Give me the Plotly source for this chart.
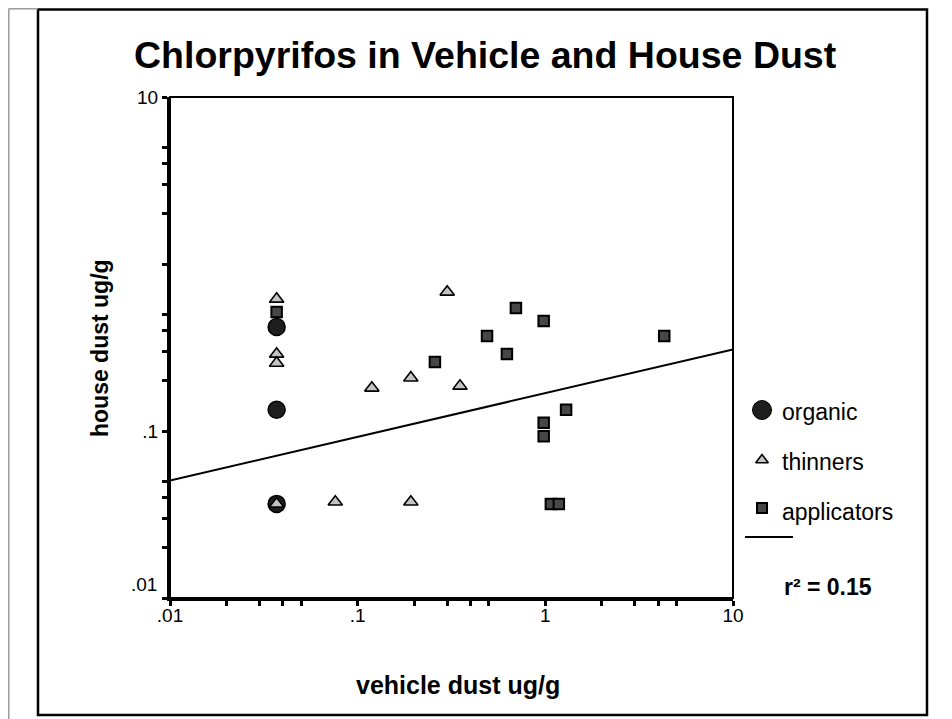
import plotly.graph_objects as go

# ---- data ----
organic_x = [0.037, 0.037, 0.037]
organic_y = [0.42, 0.134, 0.0366]

thinners_x = [0.037, 0.037, 0.037, 0.037, 0.30, 0.119, 0.192, 0.351, 0.076, 0.192]
thinners_y = [0.617, 0.289, 0.255, 0.0366, 0.68, 0.181, 0.208, 0.186, 0.0376, 0.0376]

applicators_x = [0.037, 0.258, 0.489, 0.697, 0.98, 0.624, 4.3, 1.29, 0.98, 0.98, 1.07, 1.18]
applicators_y = [0.516, 0.259, 0.370, 0.545, 0.456, 0.289, 0.370, 0.134, 0.112, 0.093, 0.0366, 0.0366]

fit_x = [0.01, 10]
fit_y = [0.0505, 0.308]
r_squared = 0.15

x_tickvals = [0.01, 0.02, 0.03, 0.04, 0.05, 0.1, 0.2, 0.3, 0.4, 0.5, 1, 2, 3, 4, 5, 10]
x_ticktext = [".01", "", "", "", "", ".1", "", "", "", "", "1", "", "", "", "", "10"]
y_tickvals = [0.01, 0.02, 0.03, 0.04, 0.05, 0.1, 0.2, 0.3, 0.4, 0.5, 1, 2, 3, 4, 5, 10]
y_ticktext = ["", "", "", "", "", ".1", "", "", "", "", "", "", "", "", "", "10"]

legend_names = ["organic", "thinners", "applicators"]

W, H = 952, 719
OFF = 8  # page body margin


def px(p):
    return (p - OFF) / W


def py(p):
    return 1 - (p - OFF) / H


FONT = "Arial, Liberation Sans, sans-serif"

fig = go.Figure()

fig.add_trace(go.Scatter(x=fit_x, y=fit_y, mode="lines",
                         line=dict(color="black", width=2), showlegend=False))
fig.add_trace(go.Scatter(x=applicators_x, y=applicators_y, mode="markers",
                         marker=dict(symbol="square", size=10.5, color="#474747",
                                     line=dict(color="black", width=2)),
                         showlegend=False, cliponaxis=False))
fig.add_trace(go.Scatter(x=organic_x, y=organic_y, mode="markers",
                         marker=dict(symbol="circle", size=17, color="#1e1e1e",
                                     line=dict(color="black", width=1.5)),
                         showlegend=False, cliponaxis=False))
fig.add_trace(go.Scatter(x=thinners_x, y=thinners_y, mode="markers",
                         marker=dict(symbol="triangle-up", size=12.5, color="#c4c4c4",
                                     line=dict(color="black", width=1.6)),
                         showlegend=False, cliponaxis=False))

# legend on a pixel overlay axis (page pixel coordinates)
fig.add_trace(go.Scatter(x=[762], y=[410], mode="markers", xaxis="x2", yaxis="y2",
                         marker=dict(symbol="circle", size=19, color="#1e1e1e",
                                     line=dict(color="black", width=1)),
                         showlegend=False, cliponaxis=False))
fig.add_trace(go.Scatter(x=[762], y=[460], mode="markers", xaxis="x2", yaxis="y2",
                         marker=dict(symbol="triangle-up", size=11, color="#c4c4c4",
                                     line=dict(color="black", width=1.6)),
                         showlegend=False, cliponaxis=False))
fig.add_trace(go.Scatter(x=[762], y=[508], mode="markers", xaxis="x2", yaxis="y2",
                         marker=dict(symbol="square", size=10, color="#474747",
                                     line=dict(color="black", width=2)),
                         showlegend=False, cliponaxis=False))
fig.add_trace(go.Scatter(x=[745, 793], y=[537, 537], mode="lines", xaxis="x2", yaxis="y2",
                         line=dict(color="black", width=2),
                         showlegend=False, cliponaxis=False))

annotations = []
for name, yy in zip(legend_names, [412, 462, 512]):
    annotations.append(dict(text=name, x=px(780), y=py(yy), xref="paper", yref="paper",
                            xanchor="left", yanchor="middle", showarrow=False,
                            font=dict(family=FONT, size=23, color="black")))
annotations.append(dict(text=f"<b>r² = {r_squared:.2f}</b>", x=px(782), y=py(587),
                        xref="paper", yref="paper", xanchor="left", yanchor="middle",
                        showarrow=False, font=dict(family=FONT, size=23, color="black")))
annotations.append(dict(text="<b>Chlorpyrifos in Vehicle and House Dust</b>",
                        x=px(485), y=py(55), xref="paper", yref="paper",
                        xanchor="center", yanchor="middle", showarrow=False,
                        font=dict(family=FONT, size=37.5, color="black")))
annotations.append(dict(text="<b>vehicle dust ug/g</b>", x=px(458), y=py(685),
                        xref="paper", yref="paper", xanchor="center", yanchor="middle",
                        showarrow=False, font=dict(family=FONT, size=25, color="black")))
annotations.append(dict(text="<b>house dust ug/g</b>", x=px(100), y=py(348),
                        xref="paper", yref="paper", xanchor="center", yanchor="middle",
                        textangle=-90, showarrow=False,
                        font=dict(family=FONT, size=23, color="black")))
annotations.append(dict(text=".01", x=px(159), y=-2, xref="paper", yref="y",
                        xanchor="right", yanchor="middle", yshift=14, showarrow=False,
                        font=dict(family=FONT, size=19, color="black")))

shapes = [
    dict(type="rect", xref="x domain", yref="y domain", x0=0, x1=1, y0=0, y1=1,
         line=dict(color="black", width=2)),
    dict(type="rect", xref="paper", yref="paper", x0=px(38), x1=px(927),
         y0=py(715), y1=py(9.5), line=dict(color="black", width=2.5)),
    dict(type="line", xref="paper", yref="paper", x0=px(8.8), x1=px(8.8), y0=py(719), y1=py(8.8),
         line=dict(color="#9a9a9a", width=1.5)),
    dict(type="line", xref="paper", yref="paper", x0=px(8.8), x1=px(38), y0=py(8.8), y1=py(8.8),
         line=dict(color="#9a9a9a", width=1.5)),
]

axis_common = dict(type="log", range=[-2, 1], showgrid=False, zeroline=False,
                   showline=True, linecolor="black", linewidth=3, automargin=False,
                   ticks="outside", ticklen=5, tickwidth=3, tickcolor="black",
                   tickfont=dict(family=FONT, size=19, color="black"))

fig.update_layout(
    width=W, height=H,
    margin=dict(l=0, r=0, t=0, b=0, pad=0, autoexpand=False),
    paper_bgcolor="white", plot_bgcolor="rgba(0,0,0,0)",
    xaxis=dict(domain=[px(170), px(733)], anchor="y", tickvals=x_tickvals,
               ticktext=x_ticktext, ticklabelstandoff=-7, **axis_common),
    yaxis=dict(domain=[py(598), py(97)], anchor="x", tickvals=y_tickvals,
               ticktext=y_ticktext, **axis_common),
    xaxis2=dict(domain=[0, 1], range=[OFF, W + OFF], visible=False, anchor="y2"),
    yaxis2=dict(domain=[0, 1], range=[H + OFF, OFF], visible=False, anchor="x2"),
    annotations=annotations,
    shapes=shapes,
    showlegend=False,
)

fig.write_html("out.html")
